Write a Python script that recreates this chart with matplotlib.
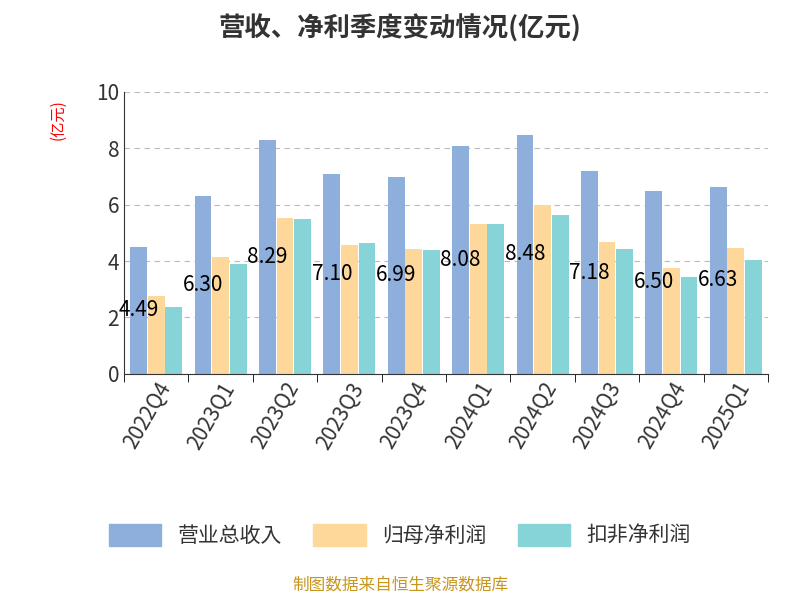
import matplotlib
matplotlib.use("Agg")
import matplotlib.pyplot as plt
from matplotlib import font_manager
import numpy as np

cands = [f.name for f in font_manager.fontManager.ttflist if 'CJK' in f.name or 'Noto Sans SC' in f.name]
plt.rcParams['font.family'] = 'sans-serif'
plt.rcParams['font.sans-serif'] = ['Noto Sans CJK SC', 'Noto Sans CJK JP'] + cands + ['DejaVu Sans']

categories = ["2022Q4","2023Q1","2023Q2","2023Q3","2023Q4","2024Q1","2024Q2","2024Q3","2024Q4","2025Q1"]
revenue = [4.49,6.30,8.29,7.10,6.99,8.08,8.48,7.18,6.50,6.63]
net_profit = [2.76,4.13,5.51,4.56,4.42,5.30,5.97,4.66,3.75,4.45]
deducted = [2.37,3.89,5.48,4.63,4.38,5.30,5.62,4.42,3.43,4.03]

fig = plt.figure(figsize=(8,6), dpi=100)
ax = fig.add_axes([0.155, 0.377, 0.805, 0.47])
x = np.arange(len(categories))
w = 0.26
ax.bar(x - w*1.05, revenue, w, color='#8eaedc')
ax.bar(x, net_profit, w, color='#fdd89a')
ax.bar(x + w*1.05, deducted, w, color='#86d4d8')
for xi, v in zip(x, revenue):
    ax.text(xi - w*1.05, v/2, f"{v:.2f}", ha='center', va='center', fontsize=15, color='black')
ax.set_ylim(0, 10)
ax.set_xlim(-0.5, len(categories)-0.5)
ax.set_yticks([0,2,4,6,8,10])
ax.tick_params(axis='y', labelsize=15, length=0, colors='#333333')
ax.set_xticks(x)
ax.set_xticklabels(categories, rotation=60, ha='right', rotation_mode='anchor', fontsize=15, color='#333333')
ax.set_xticks(np.arange(-0.5, len(categories)), minor=True)
ax.tick_params(axis='x', which='major', length=0)
ax.tick_params(axis='x', which='minor', length=6)
ax.yaxis.grid(True, linestyle=(0,(5,4)), color='#bbbbbb')
ax.set_axisbelow(True)
for s in ['top','right']:
    ax.spines[s].set_visible(False)
ax.spines['left'].set_color('#333333')
ax.spines['bottom'].set_color('#333333')
ax.set_ylabel('(亿元)', color='red', fontsize=11)
ax.yaxis.set_label_coords(-0.09, 0.9)

fig.suptitle('营收、净利季度变动情况(亿元)', fontsize=19, fontweight='bold', color='#333333', y=0.975)
from matplotlib.patches import Patch
handles = [Patch(color='#8eaedc'), Patch(color='#fdd89a'), Patch(color='#86d4d8')]
fig.legend(handles, ['营业总收入','归母净利润','扣非净利润'], loc='center', bbox_to_anchor=(0.5, 0.108), ncol=3,
           frameon=False, fontsize=15, handlelength=2.5, handleheight=1.3, columnspacing=1.5, labelcolor='#333333')
fig.text(0.5, 0.018, '制图数据来自恒生聚源数据库', ha='center', fontsize=12, color='#c8961e')
fig.savefig('out.png')
